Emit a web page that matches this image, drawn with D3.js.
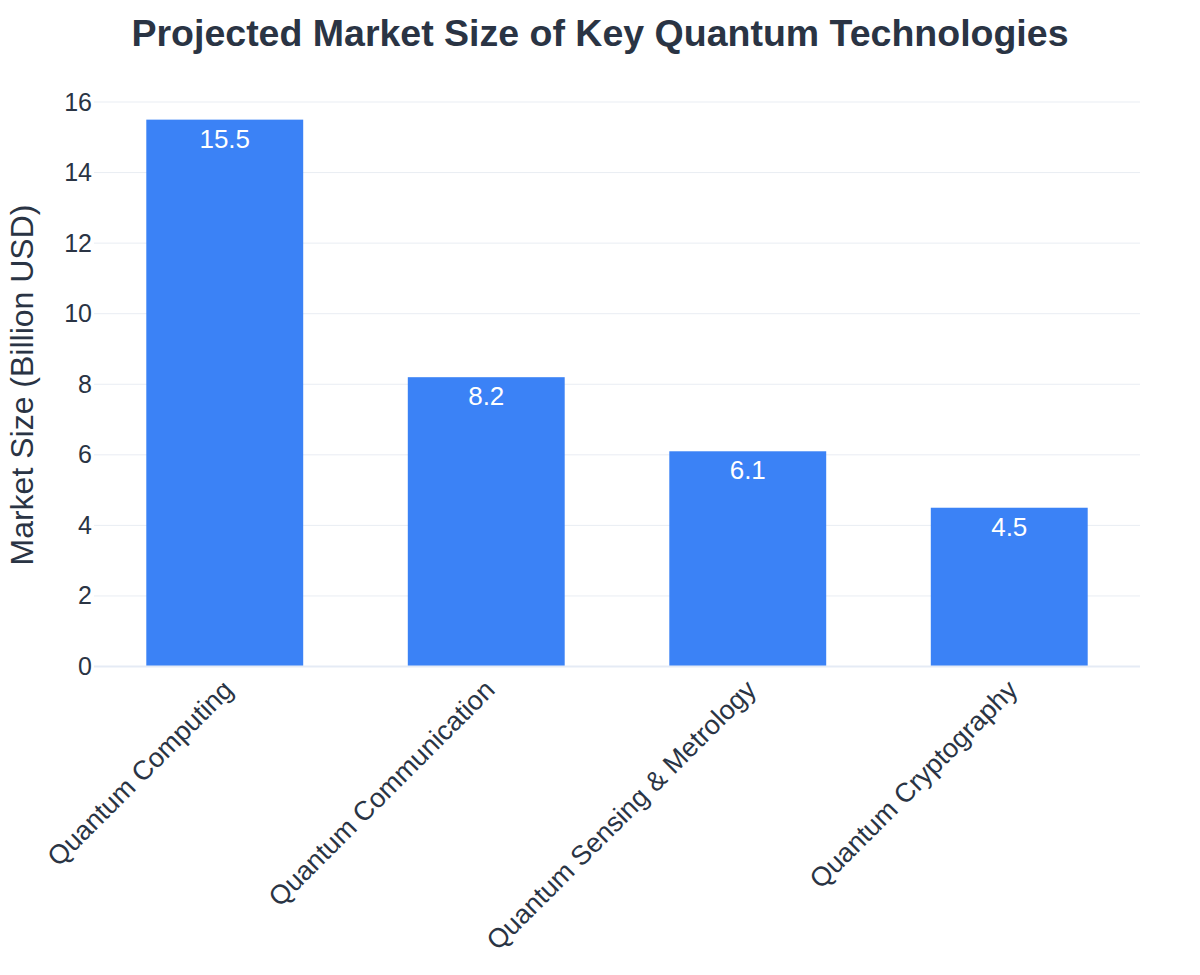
<!DOCTYPE html>
<html>
<head>
<meta charset="utf-8">
<script src="https://cdn.jsdelivr.net/npm/d3@7"></script>
<style>
  body { margin: 0; background: #fff; }
  svg { font-family: "Liberation Sans", Arial, sans-serif; }
</style>
</head>
<body>
<svg id="chart"></svg>
<script>
// chart data
const categories = ["Quantum Computing", "Quantum Communication", "Quantum Sensing & Metrology", "Quantum Cryptography"];
const values = [15.5, 8.2, 6.1, 4.5];
const yTicks = [0, 2, 4, 6, 8, 10, 12, 14, 16];

const width = 1200, height = 975;
let padding = {top: 102, right: 60, bottom: 308, left: 94};
const textCol = "#2a3444";
const barCol = "#3b82f6";

const svg = d3.select("#chart").attr("width", width).attr("height", height);

// plotly-like bands: gap split evenly around each bar
let x = d3.scaleBand()
  .domain(categories)
  .range([padding.left, width - padding.right])
  .paddingInner(0.4)
  .paddingOuter(0.2);

let y = d3.scaleLinear()
  .domain([0, 16])
  .range([height - padding.bottom - 0.5, padding.top]);

// gridlines
svg.append("g")
  .selectAll("line")
  .data(yTicks.filter(d => d > 0))
  .join("line")
    .attr("x1", padding.left)
    .attr("x2", width - padding.right)
    .attr("y1", d => y(d))
    .attr("y2", d => y(d))
    .attr("stroke", "#e9edf3")
    .attr("stroke-width", 1);

// bars
svg.append("g")
  .selectAll("rect")
  .data(values)
  .join("rect")
    .attr("x", (d, i) => x(categories[i]))
    .attr("y", d => y(d))
    .attr("width", x.bandwidth())
    .attr("height", d => y(0) - y(d))
    .attr("fill", barCol);

// zero line
svg.append("line")
  .attr("x1", padding.left)
  .attr("x2", width - padding.right)
  .attr("y1", y(0))
  .attr("y2", y(0))
  .attr("stroke", "#e5ebf5")
  .attr("stroke-width", 2);

// value labels
svg.append("g")
  .selectAll("text")
  .data(values)
  .join("text")
    .attr("x", (d, i) => x(categories[i]) + x.bandwidth() / 2)
    .attr("y", d => y(d) + 28)
    .attr("text-anchor", "middle")
    .attr("fill", "#fff")
    .style("font-size", "26px")
    .text(d => d3.format(".1f")(d));

// Y axis
const yAxis = svg.append("g")
  .attr("transform", "translate(" + (padding.left - 2) + ",0)")
  .call(d3.axisLeft(y).tickValues(yTicks).tickSize(0).tickPadding(0));
yAxis.select(".domain").remove();
yAxis.selectAll("text")
  .attr("fill", textCol)
  .style("font-size", "25px")
  .style("font-family", "Liberation Sans, Arial, sans-serif");

// X axis
const xAxis = svg.append("g")
  .attr("transform", "translate(0," + y(0) + ")")
  .call(d3.axisBottom(x).tickSize(0).tickPadding(0));
xAxis.select(".domain").remove();
xAxis.selectAll("text")
  .attr("fill", textCol)
  .style("font-size", "27px")
  .style("font-family", "Liberation Sans, Arial, sans-serif")
  .attr("text-anchor", "end")
  .attr("dy", "0")
  .attr("transform", "translate(10,25) rotate(-45)");

// title
svg.append("text")
  .attr("x", 600)
  .attr("y", 46)
  .attr("text-anchor", "middle")
  .attr("fill", textCol)
  .style("font-size", "37.5px")
  .style("font-weight", "bold")
  .text("Projected Market Size of Key Quantum Technologies");

// y axis title
svg.append("text")
  .attr("transform", "rotate(-90)")
  .attr("x", -385)
  .attr("y", 33)
  .attr("text-anchor", "middle")
  .attr("fill", textCol)
  .style("font-size", "32px")
  .text("Market Size (Billion USD)");
</script>
</body>
</html>
